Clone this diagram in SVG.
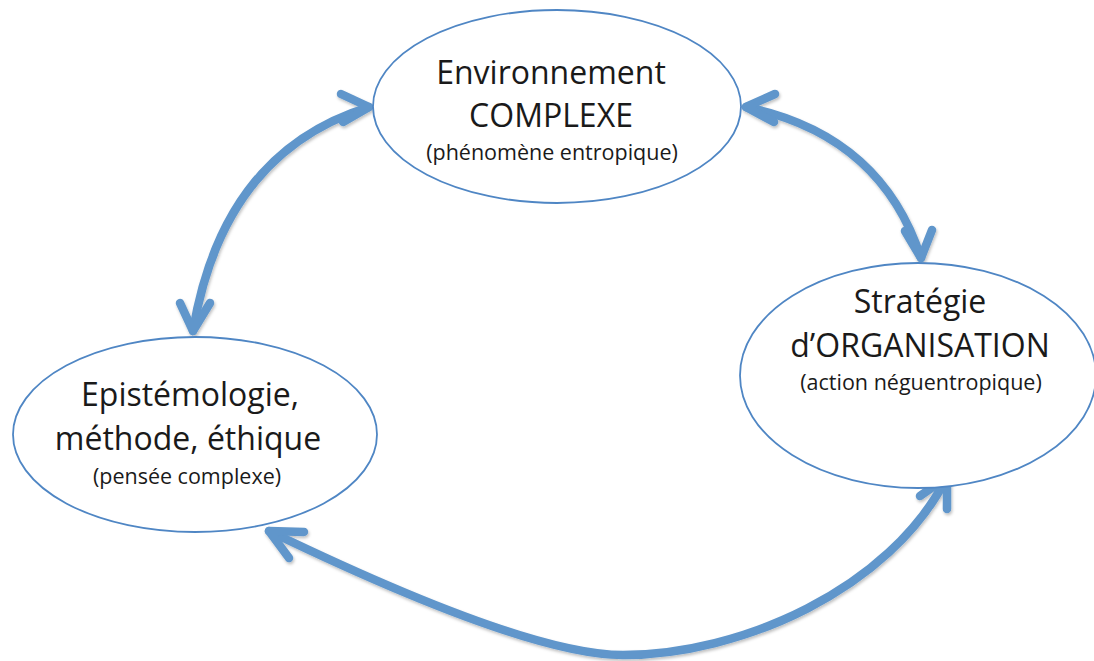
<svg xmlns="http://www.w3.org/2000/svg" width="1094" height="661" viewBox="0 0 1094 661">
<defs>
<filter id="sh" x="-10%" y="-10%" width="120%" height="120%">
<feDropShadow dx="1" dy="2" stdDeviation="1.5" flood-color="#000" flood-opacity="0.25"/>
</filter>
</defs>
<style>
.node ellipse{fill:#fff;stroke:#4f86c4;stroke-width:1.8}
.t{font-family:"Open Sans","Noto Sans","Liberation Sans",sans-serif;fill:#1a1a1a;text-anchor:middle}
.big{font-size:32px}
.small{font-size:21.5px}
.conn path{fill:none;stroke:#6096cb;stroke-width:8.5;stroke-linecap:round;stroke-linejoin:round}
</style>
<rect width="1094" height="661" fill="#fff"/>
<g id="connectors" class="conn" filter="url(#sh)">
<path d="M369,107 Q223,152 193,331"/>
<path d="M341,94 L369,107 L343,122"/>
<path d="M180,303 L193,331 L210,303"/>
<path d="M746,107 Q881,135 921,258"/>
<path d="M775,94 L746,107 L774,122"/>
<path d="M905,231 L921,258 L932,230"/>
<path d="M269,531 Q526,655 623,655 C740,655 890,590 947,477"/>
<path d="M304,532 L269,531 L289,558"/>
<path d="M920,496 L947,477 L947,509"/>
</g>
<g id="node-environnement" class="node">
<ellipse cx="557" cy="106.5" rx="184" ry="96.5"/>
<text class="t big" x="551" y="84">Environnement</text>
<text class="t big" x="551" y="127">COMPLEXE</text>
<text class="t small" x="552" y="160">(phénomène entropique)</text>
</g>
<g id="node-strategie" class="node">
<ellipse cx="918" cy="375.5" rx="178" ry="112.5"/>
<text class="t big" x="920" y="313">Stratégie</text>
<text class="t big" x="920" y="357">d’ORGANISATION</text>
<text class="t small" x="921" y="390">(action néguentropique)</text>
</g>
<g id="node-epistemologie" class="node">
<ellipse cx="195" cy="434.5" rx="182" ry="97.5"/>
<text class="t big" x="190" y="406">Epistémologie,</text>
<text class="t big" x="188" y="450">méthode, éthique</text>
<text class="t small" x="187" y="484">(pensée complexe)</text>
</g>
</svg>
